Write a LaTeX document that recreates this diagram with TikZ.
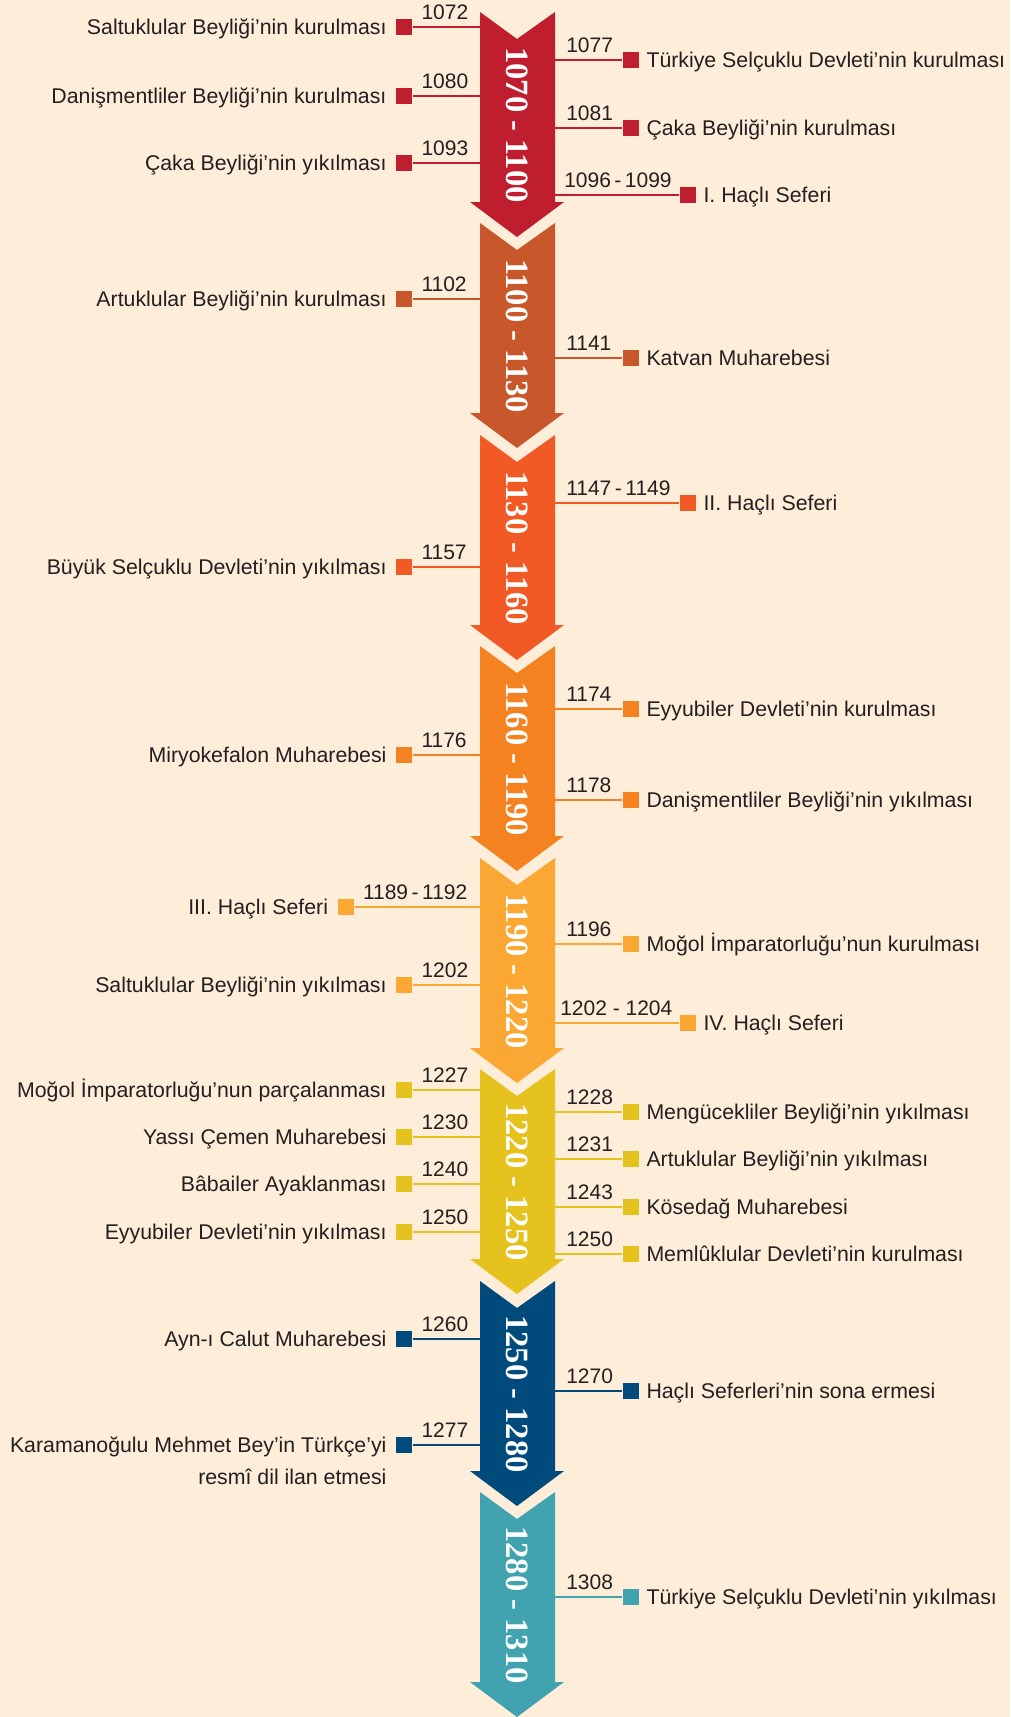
\documentclass[tikz,border=0pt]{standalone}
\usepackage{fontspec}
\usepackage{tikz}
\newfontfamily\labfont{Liberation Sans}
\newfontfamily\perfont{Liberation Serif}
\definecolor{bg}{HTML}{FDEDD9}
\definecolor{ink}{HTML}{231F20}
\definecolor{cA}{HTML}{BE1E2D}
\definecolor{cB}{HTML}{C8572B}
\definecolor{cC}{HTML}{F15A24}
\definecolor{cD}{HTML}{F58220}
\definecolor{cE}{HTML}{FBA733}
\definecolor{cF}{HTML}{E6C21F}
\definecolor{cG}{HTML}{004B7C}
\definecolor{cH}{HTML}{42A3B0}
\begin{document}
\begin{tikzpicture}[x=1pt,y=-1pt,line width=2.5pt,
	sq/.style ={fill, inner sep=0, minimum size=16pt},
	period/.style ={text=white, rotate=-90, inner sep=0, font=\perfont\bfseries\fontsize{32.5}{34}\selectfont},
	yl/.style ={pos=0, anchor=south west, inner sep=0, xshift=7pt, yshift=6pt, text=ink, font=\labfont\fontsize{21}{26}\selectfont},
	yr/.style ={pos=0, anchor=south west, inner sep=0, xshift=10pt, yshift=6pt, text=ink, font=\labfont\fontsize{21}{26}\selectfont},
	ltxt/.style ={anchor=base east, inner sep=0, text=ink, font=\labfont\fontsize{21.3}{32}\selectfont},
	rtxt/.style ={anchor=base west, inner sep=0, text=ink, font=\labfont\fontsize{21.3}{32}\selectfont}]
	\useasboundingbox (0,0) rectangle (1010,1717);
	\fill[bg] (0,0) rectangle (1010,1717);
	\coordinate (shL) at (480,0);
	\coordinate (shR) at (555,0);

	\begin{scope}[color=cA]
		\fill (480,12) -- ++(37,27) -- ++(38,-27) -- ++(0,190) -- ++(9,0) -- ++(-47,35) -- ++(-47,-35) -- ++(10,0) -- cycle;
		\node[period] (p1) at (517,125) {1070 - 1100};
		\node[sq] (L1) at (404,27) {};
		\node[sq] (L2) at (404,96) {};
		\node[sq] (L3) at (404,163) {};
		\node[sq] (R1) at (631,60) {};
		\node[sq] (R2) at (631,128) {};
		\node[sq] (R3) at (688,195) {};
		\draw (L1) -- node[yl]{1072} (L1 -| shL);
		\draw (L2) -- node[yl]{1080} (L2 -| shL);
		\draw (L3) -- node[yl]{1093} (L3 -| shL);
		\draw (R1 -| shR) -- node[yr]{1077} (R1);
		\draw (R2 -| shR) -- node[yr]{1081} (R2);
		\draw (R3 -| shR) -- node[yr, xshift=-2pt]{1096\,-\,1099} (R3);
		\node[ltxt] at ([xshift=-7pt,yshift=-7.5pt]L1.west) {Saltuklular Beyliği’nin kurulması};
		\node[ltxt] at ([xshift=-7pt,yshift=-7.5pt]L2.west) {Danişmentliler Beyliği’nin kurulması};
		\node[ltxt] at ([xshift=-7pt,yshift=-7.5pt]L3.west) {Çaka Beyliği’nin yıkılması};
		\node[rtxt] at ([xshift=5pt,yshift=-7.5pt]R1.east) {Türkiye Selçuklu Devleti’nin kurulması};
		\node[rtxt] at ([xshift=5pt,yshift=-7.5pt]R2.east) {Çaka Beyliği’nin kurulması};
		\node[rtxt] at ([xshift=5pt,yshift=-7.5pt]R3.east) {I. Haçlı Seferi};
	\end{scope}

	\begin{scope}[color=cB]
		\fill (480,223) -- ++(37,27) -- ++(38,-27) -- ++(0,190) -- ++(9,0) -- ++(-47,35) -- ++(-47,-35) -- ++(10,0) -- cycle;
		\node[period] (p2) at (517,336) {1100 - 1130};
		\node[sq] (L4) at (404,299) {};
		\node[sq] (R4) at (631,358) {};
		\draw (L4) -- node[yl]{1102} (L4 -| shL);
		\draw (R4 -| shR) -- node[yr]{1141} (R4);
		\node[ltxt] at ([xshift=-7pt,yshift=-7.5pt]L4.west) {Artuklular Beyliği’nin kurulması};
		\node[rtxt] at ([xshift=5pt,yshift=-7.5pt]R4.east) {Katvan Muharebesi};
	\end{scope}

	\begin{scope}[color=cC]
		\fill (480,435) -- ++(37,27) -- ++(38,-27) -- ++(0,190) -- ++(9,0) -- ++(-47,35) -- ++(-47,-35) -- ++(10,0) -- cycle;
		\node[period] (p3) at (517,548) {1130 - 1160};
		\node[sq] (R5) at (688,503) {};
		\node[sq] (L5) at (404,567) {};
		\draw (R5 -| shR) -- node[yr]{1147\,-\,1149} (R5);
		\draw (L5) -- node[yl]{1157} (L5 -| shL);
		\node[rtxt] at ([xshift=5pt,yshift=-7.5pt]R5.east) {II. Haçlı Seferi};
		\node[ltxt] at ([xshift=-7pt,yshift=-7.5pt]L5.west) {Büyük Selçuklu Devleti’nin yıkılması};
	\end{scope}

	\begin{scope}[color=cD]
		\fill (480,646) -- ++(37,27) -- ++(38,-27) -- ++(0,190) -- ++(9,0) -- ++(-47,35) -- ++(-47,-35) -- ++(10,0) -- cycle;
		\node[period] (p4) at (517,759) {1160 - 1190};
		\node[sq] (R6) at (631,709) {};
		\node[sq] (L6) at (404,755) {};
		\node[sq] (R7) at (631,800) {};
		\draw (R6 -| shR) -- node[yr]{1174} (R6);
		\draw (L6) -- node[yl]{1176} (L6 -| shL);
		\draw (R7 -| shR) -- node[yr]{1178} (R7);
		\node[rtxt] at ([xshift=5pt,yshift=-7.5pt]R6.east) {Eyyubiler Devleti’nin kurulması};
		\node[ltxt] at ([xshift=-7pt,yshift=-7.5pt]L6.west) {Miryokefalon Muharebesi};
		\node[rtxt] at ([xshift=5pt,yshift=-7.5pt]R7.east) {Danişmentliler Beyliği’nin yıkılması};
	\end{scope}

	\begin{scope}[color=cE]
		\fill (480,858) -- ++(37,27) -- ++(38,-27) -- ++(0,190) -- ++(9,0) -- ++(-47,35) -- ++(-47,-35) -- ++(10,0) -- cycle;
		\node[period] (p5) at (517,971) {1190 - 1220};
		\node[sq] (L7) at (345.5,907) {};
		\node[sq] (R8) at (631,944) {};
		\node[sq] (L8) at (404,985) {};
		\node[sq] (R9) at (688,1023) {};
		\draw (L7) -- node[yl]{1189\,-\,1192} (L7 -| shL);
		\draw (R8 -| shR) -- node[yr]{1196} (R8);
		\draw (L8) -- node[yl]{1202} (L8 -| shL);
		\draw (R9 -| shR) -- node[yr, xshift=-6pt]{1202 - 1204} (R9);
		\node[ltxt] at ([xshift=-7pt,yshift=-7.5pt]L7.west) {III. Haçlı Seferi};
		\node[rtxt] at ([xshift=5pt,yshift=-7.5pt]R8.east) {Moğol İmparatorluğu’nun kurulması};
		\node[ltxt] at ([xshift=-7pt,yshift=-7.5pt]L8.west) {Saltuklular Beyliği’nin yıkılması};
		\node[rtxt] at ([xshift=5pt,yshift=-7.5pt]R9.east) {IV. Haçlı Seferi};
	\end{scope}

	\begin{scope}[color=cF]
		\fill (480,1069) -- ++(37,27) -- ++(38,-27) -- ++(0,190) -- ++(9,0) -- ++(-47,35) -- ++(-47,-35) -- ++(10,0) -- cycle;
		\node[period] (p6) at (517,1182) {1220 - 1250};
		\node[sq] (L9) at (404,1090) {};
		\node[sq] (L10) at (404,1137) {};
		\node[sq] (L11) at (404,1184) {};
		\node[sq] (L12) at (404,1232) {};
		\node[sq] (R10) at (631,1112) {};
		\node[sq] (R11) at (631,1159) {};
		\node[sq] (R12) at (631,1207) {};
		\node[sq] (R13) at (631,1254) {};
		\draw (L9) -- node[yl]{1227} (L9 -| shL);
		\draw (L10) -- node[yl]{1230} (L10 -| shL);
		\draw (L11) -- node[yl]{1240} (L11 -| shL);
		\draw (L12) -- node[yl]{1250} (L12 -| shL);
		\draw (R10 -| shR) -- node[yr]{1228} (R10);
		\draw (R11 -| shR) -- node[yr]{1231} (R11);
		\draw (R12 -| shR) -- node[yr]{1243} (R12);
		\draw (R13 -| shR) -- node[yr]{1250} (R13);
		\node[ltxt] at ([xshift=-7pt,yshift=-7.5pt]L9.west) {Moğol İmparatorluğu’nun parçalanması};
		\node[ltxt] at ([xshift=-7pt,yshift=-7.5pt]L10.west) {Yassı Çemen Muharebesi};
		\node[ltxt] at ([xshift=-7pt,yshift=-7.5pt]L11.west) {Bâbailer Ayaklanması};
		\node[ltxt] at ([xshift=-7pt,yshift=-7.5pt]L12.west) {Eyyubiler Devleti’nin yıkılması};
		\node[rtxt] at ([xshift=5pt,yshift=-7.5pt]R10.east) {Mengücekliler Beyliği’nin yıkılması};
		\node[rtxt] at ([xshift=5pt,yshift=-7.5pt]R11.east) {Artuklular Beyliği’nin yıkılması};
		\node[rtxt] at ([xshift=5pt,yshift=-7.5pt]R12.east) {Kösedağ Muharebesi};
		\node[rtxt] at ([xshift=5pt,yshift=-7.5pt]R13.east) {Memlûklular Devleti’nin kurulması};
	\end{scope}

	\begin{scope}[color=cG]
		\fill (480,1281) -- ++(37,27) -- ++(38,-27) -- ++(0,190) -- ++(9,0) -- ++(-47,35) -- ++(-47,-35) -- ++(10,0) -- cycle;
		\node[period] (p7) at (517,1394) {1250 - 1280};
		\node[sq] (L13) at (404,1339) {};
		\node[sq] (R14) at (631,1391) {};
		\node[sq] (L14) at (404,1445) {};
		\draw (L13) -- node[yl]{1260} (L13 -| shL);
		\draw (R14 -| shR) -- node[yr]{1270} (R14);
		\draw (L14) -- node[yl]{1277} (L14 -| shL);
		\node[ltxt] at ([xshift=-7pt,yshift=-7.5pt]L13.west) {Ayn-ı Calut Muharebesi};
		\node[rtxt] at ([xshift=5pt,yshift=-7.5pt]R14.east) {Haçlı Seferleri’nin sona ermesi};
		\node[ltxt, align=right] at ([xshift=-7pt,yshift=-39.5pt]L14.west) {Karamanoğulu Mehmet Bey’in Türkçe’yi\\resmî dil ilan etmesi};
	\end{scope}

	\begin{scope}[color=cH]
		\fill (480,1492) -- ++(37,27) -- ++(38,-27) -- ++(0,190) -- ++(9,0) -- ++(-47,35) -- ++(-47,-35) -- ++(10,0) -- cycle;
		\node[period] (p8) at (517,1605) {1280 - 1310};
		\node[sq] (R15) at (631,1597) {};
		\draw (R15 -| shR) -- node[yr]{1308} (R15);
		\node[rtxt] at ([xshift=5pt,yshift=-7.5pt]R15.east) {Türkiye Selçuklu Devleti’nin yıkılması};
	\end{scope}
\end{tikzpicture}
\end{document}
